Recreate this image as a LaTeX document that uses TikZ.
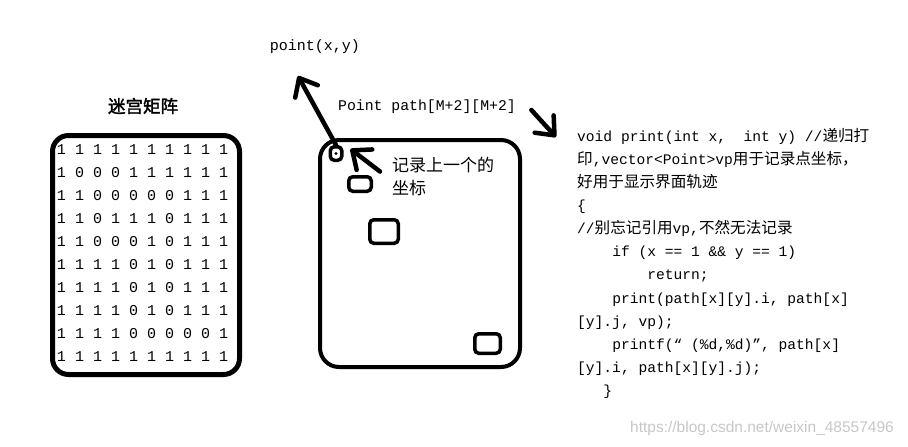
\documentclass[tikz,border=0pt]{standalone}
\usepackage{fontspec}
\usepackage{tikz}
\usetikzlibrary{arrows.meta,positioning}
\newfontfamily\codefont{Liberation Mono}
\newfontfamily\cjkfont{Noto Sans CJK SC}
\newfontfamily\cjkbold[FakeBold=2]{Noto Sans CJK SC}
\newfontfamily\markfont{Liberation Sans}
\newcommand\zh[1]{{\cjkfont\fontsize{15.6}{23.1}\selectfont#1}}

\begin{document}
\begin{tikzpicture}[x=1pt,y=-1pt,
    frame/.style={draw, inner sep=0pt},
    cell/.style={draw, inner sep=0pt, line width=3.5pt, rounded corners=4pt},
    digit/.style={inner sep=0pt, font=\codefont\fontsize{15}{15}\selectfont},
    arr/.style={line width=4.5pt, line cap=round, -{Straight Barb[angle=80:20pt,round]}},
    code/.style={inner sep=0pt, align=left, font=\codefont\fontsize{14.6}{23.1}\selectfont}]
  \useasboundingbox (0,0) rectangle (908,447);

  \node[font=\cjkbold\fontsize{17.5}{17.5}\selectfont] (mazetitle) at (143,106) {迷宫矩阵};
  \node[frame, line width=5pt, rounded corners=16pt, minimum width=187pt, minimum height=239pt] (maze) at (146,255) {};
  \foreach \row [count=\r] in {{1,1,1,1,1,1,1,1,1,1},{1,0,0,0,1,1,1,1,1,1},{1,1,0,0,0,0,0,1,1,1},
      {1,1,0,1,1,1,0,1,1,1},{1,1,0,0,0,1,0,1,1,1},{1,1,1,1,0,1,0,1,1,1},{1,1,1,1,0,1,0,1,1,1},
      {1,1,1,1,0,1,0,1,1,1},{1,1,1,1,0,0,0,0,0,1},{1,1,1,1,1,1,1,1,1,1}}
    \foreach \v [count=\c] in \row
      \node[digit] (m-\r-\c) at ({61.5+18*(\c-1)},{150+23*(\r-1)}) {\v};

  \node[font=\codefont\fontsize{15}{15}\selectfont] (ptlbl) at (315,47) {point(x,y)};
  \node[font=\codefont\fontsize{14.8}{15}\selectfont] (pathlbl) at (427,107) {Point path[M+2][M+2]};

  \node[frame, line width=4pt, rounded corners=19pt, minimum width=200pt, minimum height=227pt] (grid) at (420,253.5) {};
  \node[cell, minimum width=11.5pt, minimum height=13.5pt] (cur) at (336,153.5) {};
  \fill (cur.center) circle (1.6pt);
  \node[cell, minimum width=22.5pt, minimum height=14.5pt] (sq1) at (360,184) {};
  \node[cell, minimum width=28.5pt, minimum height=23.5pt] (sq2) at (384,231.5) {};
  \node[cell, minimum width=25.5pt, minimum height=19.5pt] (sq3) at (487.5,343.5) {};

  \node[inner sep=0pt, align=left, anchor=north west, font=\cjkfont\fontsize{17}{23}\selectfont] (note) at (392,157) {记录上一个的\\坐标};

  \coordinate (upTip) at (298,76);
  \coordinate (pathTip) at (556,137);
  \draw[arr] (cur.north) -- (upTip);
  \draw[arr] ([xshift=12pt,yshift=-3pt]pathlbl.east) -- (pathTip);
  \draw[arr] ([xshift=-12pt,yshift=5pt]note.west) -- ([xshift=7pt,yshift=-4pt]cur.north east);

  \node[code, anchor=north west] (code) at (577,128) {void print(int x,\ \ int y) //\zh{递归打}\\
\zh{印},vector<Point>vp\zh{用于记录点坐标，}\\
\zh{好用于显示界面轨迹}\\
\{\\
//\zh{别忘记引用}vp,\zh{不然无法记录}\\
\phantom{0000}if (x == 1 \&\& y == 1)\\
\phantom{00000000}return;\\
\phantom{0000}print(path[x][y].i, path[x]\\
{[}y].j, vp);\\
\phantom{0000}printf(“ (\%d,\%d)”, path[x]\\
{[}y].i, path[x][y].j);\\
\phantom{000}\}};

  \node[text=black!22, font=\markfont\fontsize{15.5}{15.5}\selectfont] (mark) at (762,428) {https://blog.csdn.net/weixin\_48557496};
\end{tikzpicture}
\end{document}
